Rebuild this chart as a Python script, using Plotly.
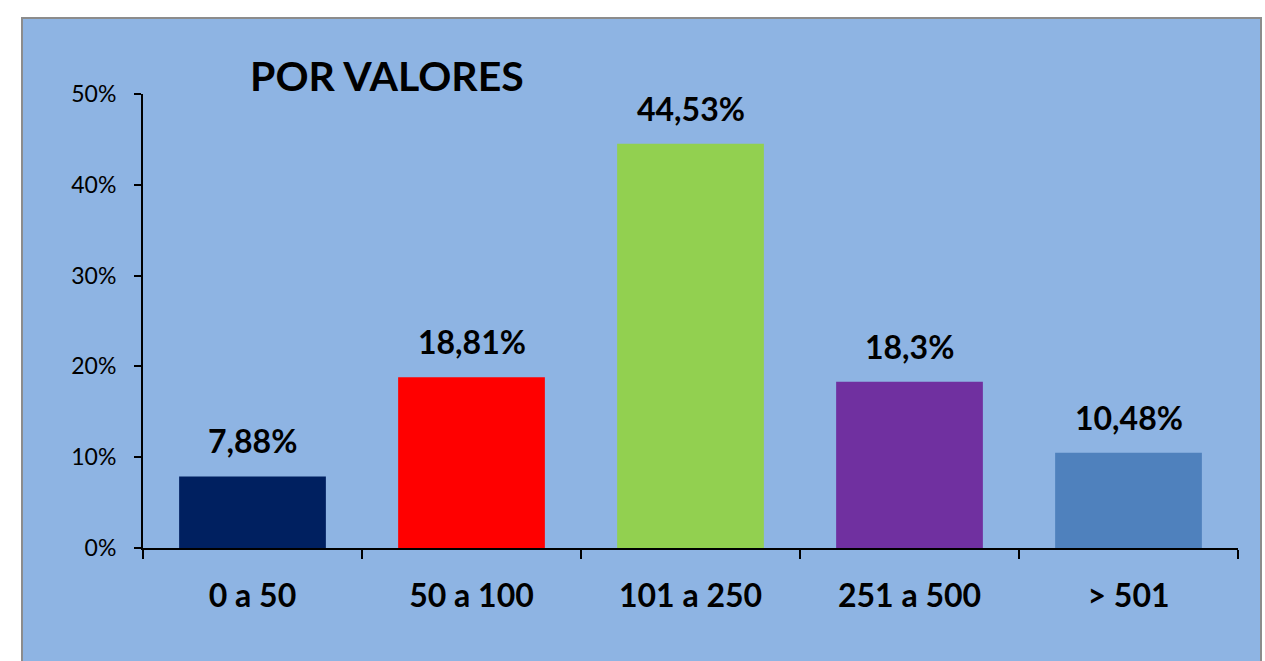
import plotly.graph_objects as go

categories = ["0 a 50", "50 a 100", "101 a 250", "251 a 500", "> 501"]
values = [7.88, 18.81, 44.53, 18.3, 10.48]
colors = ["#002060", "#FF0000", "#92D050", "#7030A0", "#4F81BD"]
y_ticks = [0, 10, 20, 30, 40, 50]
title_text = "POR VALORES"

W, H = 1265, 661
L, R, T, B = 143, 27, 94, 113
pw, ph = W - L - R, H - T - B

def px_x(x):
    return (x - L) / pw

def px_y(y):
    return (H - B - y) / ph

labels = [("%g" % v).replace(".", ",") + "%" for v in values]

fig = go.Figure()
fig.add_trace(go.Bar(x=categories, y=values, marker=dict(color=colors, line=dict(width=0)),
                     width=0.67, hoverinfo="skip"))

for c, v, t in zip(categories, values, labels):
    fig.add_annotation(x=c, y=v, text=t, showarrow=False, yanchor="bottom", yshift=14,
                       font=dict(family="Lato", size=32, color="black", weight="bold"))

fig.add_annotation(xref="paper", yref="paper", x=px_x(248), y=px_y(75), xanchor="left",
                   yanchor="middle", text=title_text, showarrow=False,
                   font=dict(family="Lato", size=41, color="black", weight="bold"))

fig.add_shape(type="rect", xref="paper", yref="paper", x0=px_x(22), x1=px_x(1261),
              y0=px_y(700), y1=px_y(18), fillcolor="#8EB4E3",
              line=dict(color="#8C8C8C", width=2), layer="below")

fig.update_layout(
    width=W, height=H, margin=dict(l=L, r=R, t=T, b=B, pad=0),
    paper_bgcolor="white", plot_bgcolor="rgba(0,0,0,0)", showlegend=False,
    bargap=0.33,
    xaxis=dict(type="category", tickson="boundaries", ticks="outside", ticklen=9,
               tickwidth=2, tickcolor="black", showline=True, linecolor="black", linewidth=2,
               showgrid=False, ticklabelstandoff=19,
               tickfont=dict(family="Lato", size=32, color="black", weight="bold"),
               range=[-0.5, 4.5], fixedrange=True),
    yaxis=dict(range=[0, 50], tickvals=y_ticks, ticktext=[f"{t}%" for t in y_ticks],
               ticks="outside", ticklen=7, tickwidth=2, tickcolor="black",
               showline=True, linecolor="black", linewidth=2, showgrid=False,
               zeroline=False, ticklabelstandoff=13,
               tickfont=dict(family="Lato", size=23, color="black"), fixedrange=True),
)

fig.write_html("out.html", config={"displayModeBar": False},
               post_script="document.body.style.margin='0';")
